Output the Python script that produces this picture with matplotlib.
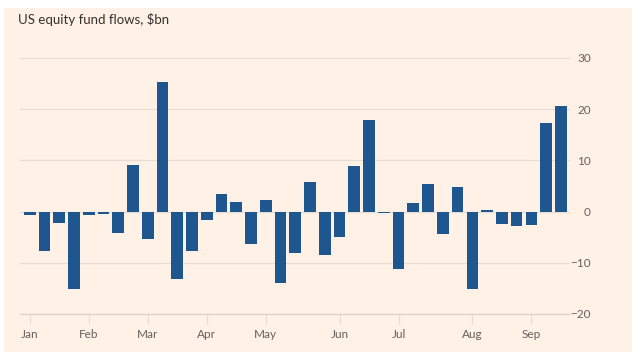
import matplotlib
matplotlib.use("Agg")
import matplotlib.pyplot as plt
from matplotlib.patches import Rectangle
import numpy as np

# weekly US equity fund flows, $bn
flows = [-0.6, -7.6, -2.2, -15.1, -0.6, -0.5, -4.2, 9.1, -5.4, 25.4,
         -13.1, -7.6, -1.6, 3.5, 1.8, -6.4, 2.2, -14.0, -8.0, 5.8,
         -8.4, -5.0, 8.9, 17.8, -0.3, -11.3, 1.7, 5.4, -4.4, 4.8,
         -15.2, 0.4, -2.5, -2.9, -2.7, 17.3, 20.7]
months = ["Jan", "Feb", "Mar", "Apr", "May", "Jun", "Jul", "Aug", "Sep"]
month_week = [0, 4, 8, 12, 16, 21, 25, 30, 34]  # first week of each month
yticks = [-20, -10, 0, 10, 20, 30]

bg = "#FFF1E5"
bar_col = "#1E5690"
grid_col = "#E8DDD4"
txt_col = "#66605C"

plt.rcParams['font.family'] = ['Lato', 'DejaVu Sans']

fig = plt.figure(figsize=(6.4, 3.63), dpi=100)
fig.patch.set_facecolor("white")
fig.add_artist(Rectangle((4/640, 11/363), 628/640, 344/363,
                         transform=fig.transFigure, facecolor=bg,
                         edgecolor="none", zorder=-10))

ax = fig.add_axes([20/640, 49/363, 550/640, 256/363])
ax.set_facecolor("none")

x = np.arange(len(flows))
ax.bar(x, flows, width=0.79, color=bar_col, zorder=3)

ax.set_ylim(-20, 30)
ax.set_xlim(-0.66, len(flows) - 0.38)
ax.set_yticks(yticks)
ax.yaxis.tick_right()
ax.tick_params(axis="y", length=0, pad=15, labelsize=8.5, labelcolor=txt_col)
for lab in ax.get_yticklabels():
    lab.set_horizontalalignment("right")
ax.grid(axis="y", color=grid_col, linewidth=0.9, zorder=0)

ax.set_xticks(month_week)
ax.set_xticklabels(months)
ax.tick_params(axis="x", length=7, width=0.9, color=grid_col, pad=4,
               labelsize=8.5, labelcolor=txt_col)

for s in ["top", "left", "right"]:
    ax.spines[s].set_visible(False)
ax.spines["bottom"].set_color("#DCD2CA")
ax.spines["bottom"].set_linewidth(0.9)

fig.text(18/640, 1 - 20/363, "US equity fund flows, $bn", fontsize=9.5,
         color="#33302E", va="center", ha="left")

fig.savefig("out.png", dpi=100, facecolor=fig.get_facecolor())
